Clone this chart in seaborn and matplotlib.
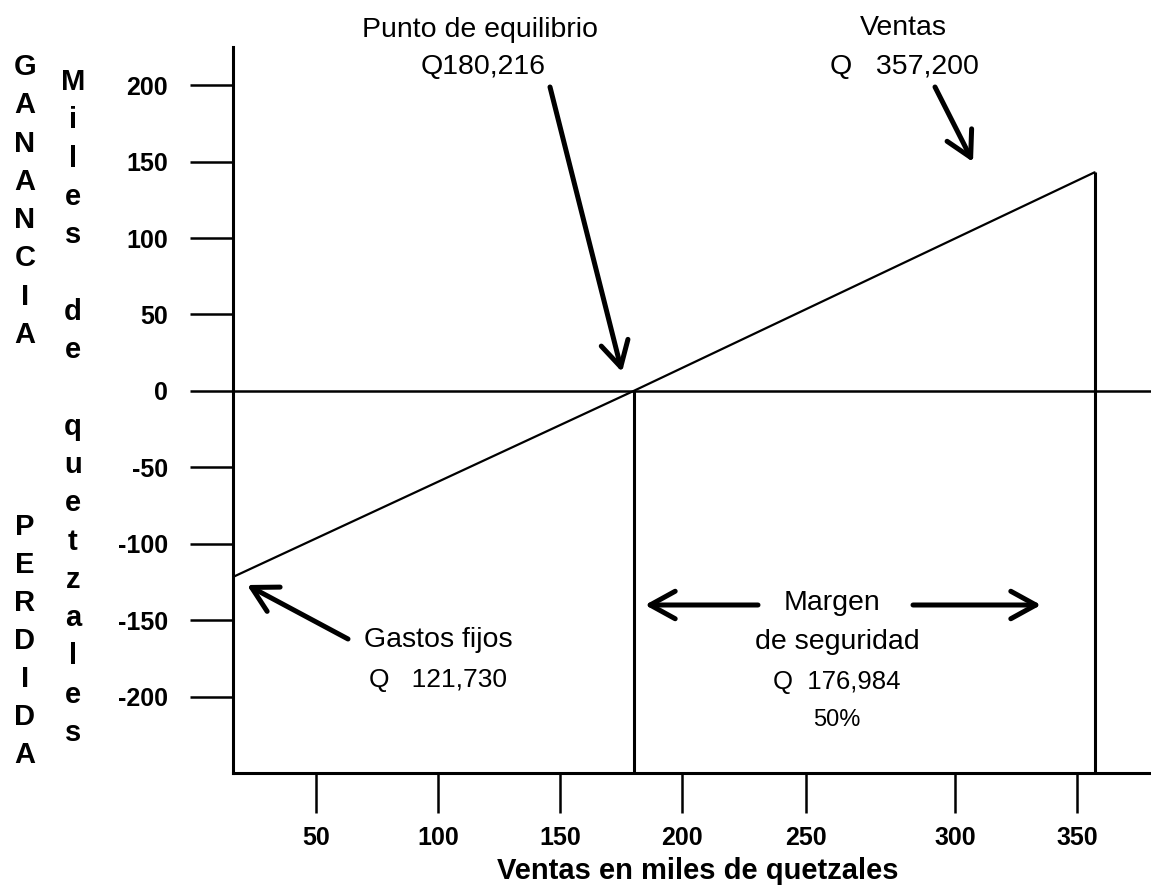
import numpy as np
import matplotlib
matplotlib.use("Agg")
import matplotlib.pyplot as plt
import seaborn as sns

# ---------------- data (miles de quetzales) ----------------
ventas_x = [16.0, 180.216, 357.2]          # ventas: inicio del eje, punto de equilibrio, ventas totales
ganancia_y = [-121.73, 0.0, 143.0]          # ganancia / pérdida correspondiente
punto_equilibrio = 180.216
ventas_totales = 357.2
ganancia_en_ventas = 143.0
x_ticks = [50, 100, 150, 200, 250, 300, 350]
y_ticks = [-200, -150, -100, -50, 0, 50, 100, 150, 200]
x_tick_labels = ["50", "100", "150", "200", "250", "300", "350"]
y_tick_labels = ["-200", "-150", "-100", "-50", "0", "50", "100", "150", "200"]
txt_punto = ["Punto de equilibrio", "Q180,216"]
txt_ventas = ["Ventas", "Q   357,200"]
txt_gastos = ["Gastos fijos", "Q   121,730"]
txt_margen = ["Margen", "de seguridad", "Q  176,984", "50%"]
lbl_ganancia = "GANANCIA"
lbl_perdida = "PERDIDA"
lbl_miles = "Miles de quetzales"
x_label = "Ventas en miles de quetzales"

# ---------------- style ----------------
sns.set_style("white")
plt.rcParams["font.family"] = ["Liberation Sans", "DejaVu Sans"]
plt.rcParams["axes.unicode_minus"] = False

W, H = 1151, 886
fig = plt.figure(figsize=(W / 100, H / 100), dpi=100)
fig.patch.set_facecolor("white")
ax = fig.add_axes([233 / W, (H - 773) / H, (1151 - 233) / W, (773 - 47) / H])
ax.set_facecolor("white")

# the original drawing's horizontal axis is slightly uneven (gap 250-300 is wider)
KX = np.array([-1000, 0, 50, 100, 150, 200, 250, 300, 350, 400, 1400], float)
KP = np.array([194 - 2440, 194, 316, 438, 560, 682, 806, 955, 1077, 1199, 1199 + 2440], float)
fwd = lambda x: np.interp(x, KX, KP)
inv = lambda p: np.interp(p, KP, KX)
ax.set_xscale("function", functions=(fwd, inv))

sns.lineplot(x=ventas_x, y=ganancia_y, ax=ax, color="black", lw=1.6,
             sort=False, estimator=None)
ax.axhline(0, color="black", lw=1.8, zorder=1)
ax.vlines([punto_equilibrio, ventas_totales], ymin=-250,
          ymax=[0, ganancia_en_ventas], color="black", lw=2.2)

ax.set_xlim(inv(233), inv(1151))
ax.set_ylim(-250, 225)
ax.set_xticks(x_ticks)
ax.set_xticklabels(x_tick_labels)
ax.set_yticks(y_ticks)
ax.set_yticklabels(y_tick_labels)
ax.minorticks_off()

for s in ["top", "right"]:
    ax.spines[s].set_visible(False)
for s in ["left", "bottom"]:
    ax.spines[s].set_color("black")
    ax.spines[s].set_linewidth(2.2)

ax.tick_params(axis="y", direction="out", length=31, width=1.8, pad=16,
               labelsize=18, colors="black", left=True)
ax.tick_params(axis="x", direction="out", length=29, width=1.8, pad=9,
               labelsize=18, colors="black", bottom=True)
for lab in ax.get_xticklabels() + ax.get_yticklabels():
    lab.set_fontweight("bold")

ax.set_xlabel(x_label, fontsize=21, fontweight="bold", color="black")
ax.xaxis.set_label_coords((698 - 233) / 918, (773 - 857) / 726)

# ---------------- helpers (layout in pixels from top-left) ----------------
def fx(px):
    return px / W

def fy(py):
    return (H - py) / H

def put(px, py, s, size, weight="normal"):
    fig.text(fx(px), fy(py), s, ha="center", va="center", fontsize=size,
             fontweight=weight, color="black")

def arrow(x0, y0, x1, y1):
    ax.annotate("", xy=(x1, H - y1), xycoords="figure pixels",
                xytext=(x0, H - y0), textcoords="figure pixels",
                arrowprops=dict(arrowstyle="->,head_length=0.6,head_width=0.33",
                                lw=3.6, color="black", mutation_scale=30,
                                shrinkA=0, shrinkB=0))

# vertical side labels
for i, ch in enumerate(lbl_ganancia):
    put(25, 67 + i * 38.3, ch, 21, "bold")
for i, ch in enumerate(lbl_perdida):
    put(25, 527 + i * 38.0, ch, 21, "bold")
for i, ch in enumerate(lbl_miles):
    if ch != " ":
        put(73, 82 + i * 38.3, ch, 21, "bold")

# annotations
put(480, 30, txt_punto[0], 20.5)
put(483, 67, txt_punto[1], 20.5)
arrow(550, 87, 622, 372)

put(903, 28, txt_ventas[0], 20.5)
put(904, 67, txt_ventas[1], 20.5)
arrow(935, 87, 973, 162)

put(438, 640, txt_gastos[0], 20.5)
put(438, 680, txt_gastos[1], 19)
arrow(348, 639, 247, 585)

put(832, 603, txt_margen[0], 20.5)
put(837, 642, txt_margen[1], 20.5)
put(837, 682, txt_margen[2], 18.5)
put(837, 720, txt_margen[3], 17)
arrow(758, 605, 645, 605)
arrow(913, 605, 1041, 605)

fig.savefig("out.png", dpi=100, facecolor="white")
